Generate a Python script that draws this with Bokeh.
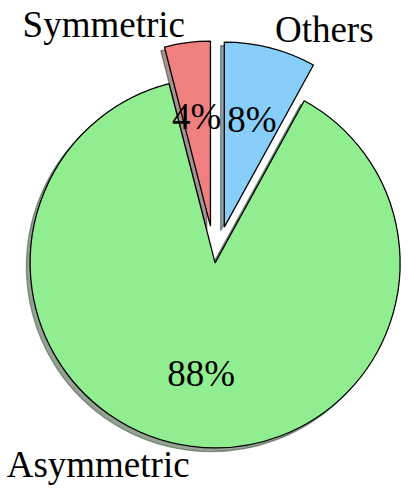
import math
from bokeh.plotting import figure
from bokeh.models import ColumnDataSource, Range1d
from bokeh.core.properties import value
from bokeh.embed import file_html
from bokeh.resources import INLINE

# ---- data ----
labels = ["Symmetric", "Asymmetric", "Others"]
shares = [4, 88, 8]
pct_labels = ["4%", "88%", "8%"]

# ---- style ----
explode = [0.2, 0.0, 0.2]
colors = [(240, 128, 128), (144, 238, 144), (135, 206, 250)]
start_deg = 90.0
radius = 1.0
font = value("Liberation Serif")
fsize = "37px"


def hexc(rgb):
    return "#%02x%02x%02x" % tuple(int(round(c)) for c in rgb)


total = float(sum(shares))
rows = dict(x=[], y=[], sa=[], ea=[], fill=[], shadow=[],
            lx=[], ly=[], lalign=[], px=[], py=[], label=[], pct=[])
theta = start_deg
for lab, pct, s, e, c in zip(labels, pct_labels, shares, explode, colors):
    t1 = theta
    t2 = theta + 360.0 * s / total
    tm = math.radians((t1 + t2) / 2.0)
    x = e * math.cos(tm)
    y = e * math.sin(tm)
    rows["x"].append(x)
    rows["y"].append(y)
    rows["sa"].append(math.radians(t1))
    rows["ea"].append(math.radians(t2))
    rows["fill"].append(hexc(c))
    rows["shadow"].append(hexc([0.3 * v for v in c]))
    lx = x + 1.1 * radius * math.cos(tm)
    ly = y + 1.1 * radius * math.sin(tm)
    rows["lx"].append(lx)
    rows["ly"].append(ly)
    rows["lalign"].append("left" if lx > 0 else "right")
    rows["px"].append(x + 0.6 * radius * math.cos(tm))
    rows["py"].append(y + 0.6 * radius * math.sin(tm))
    rows["label"].append(lab)
    rows["pct"].append(pct)
    theta = t2

src = ColumnDataSource(rows)
shadow_src = ColumnDataSource(dict(
    x=[v - 0.02 for v in rows["x"]],
    y=[v - 0.02 for v in rows["y"]],
    sa=rows["sa"], ea=rows["ea"], shadow=rows["shadow"]))

p = figure(width=407, height=488,
           x_range=Range1d(-1.16, 1.04), y_range=Range1d(-1.2195, 1.4185),
           output_backend="svg", toolbar_location=None, min_border=0)
p.outline_line_color = None
p.axis.visible = False
p.grid.visible = False
p.background_fill_color = "white"
p.border_fill_color = "white"

p.wedge(x="x", y="y", radius=radius, start_angle="sa", end_angle="ea",
        fill_color="shadow", fill_alpha=0.5, line_color="shadow",
        line_alpha=0.5, line_width=1.3, source=shadow_src)
p.wedge(x="x", y="y", radius=radius, start_angle="sa", end_angle="ea",
        fill_color="fill", line_color="black", line_width=1.3, source=src)

p.text(x="lx", y="ly", text="label", text_align="lalign",
       text_baseline="middle", text_font=font, text_font_size=fsize,
       text_color="black", source=src)
p.text(x="px", y="py", text="pct", text_align="center",
       text_baseline="middle", text_font=font, text_font_size=fsize,
       text_color="black", source=src)

open("out.html", "w").write(file_html(p, INLINE))
